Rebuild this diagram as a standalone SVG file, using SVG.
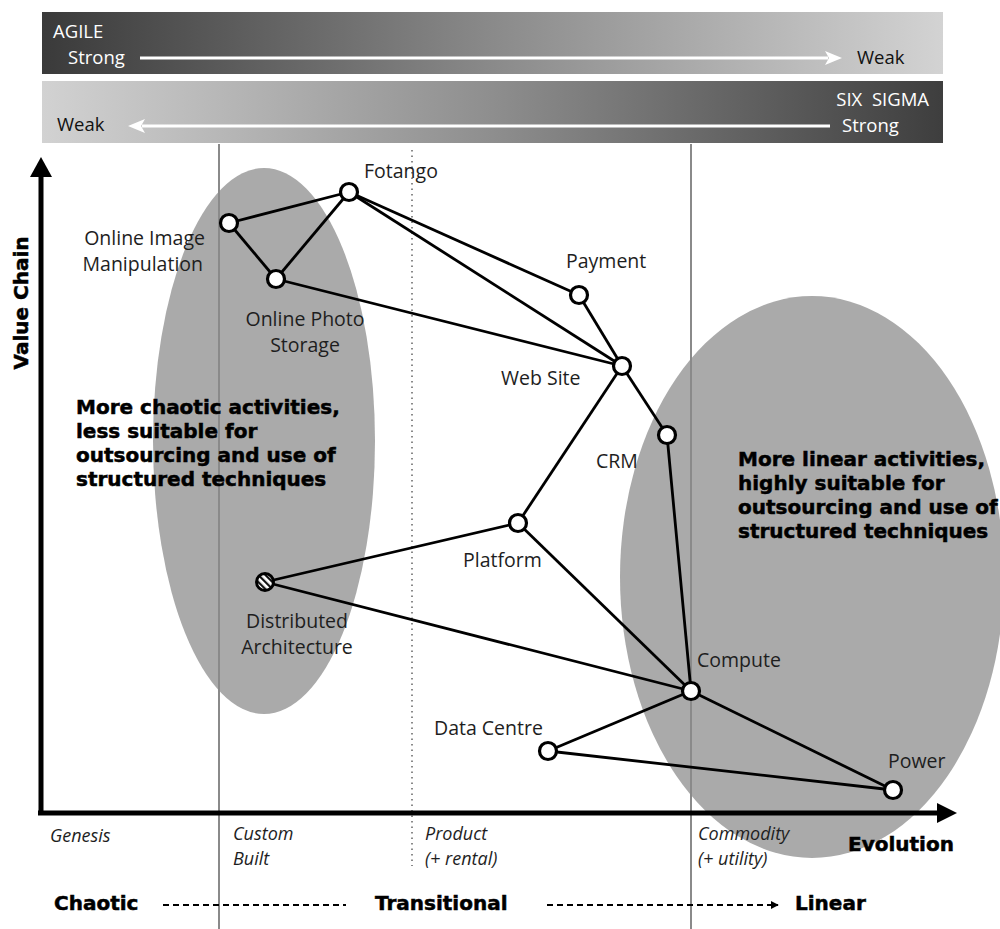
<svg xmlns="http://www.w3.org/2000/svg" width="1000" height="929" viewBox="0 0 1000 929">
  <defs>
    <linearGradient id="gradAgile" x1="0" y1="0" x2="1" y2="0">
      <stop offset="0" stop-color="#3a3a3a"/>
      <stop offset="0.5" stop-color="#8a8a8a"/>
      <stop offset="1" stop-color="#d3d3d3"/>
    </linearGradient>
    <linearGradient id="gradSigma" x1="0" y1="0" x2="1" y2="0">
      <stop offset="0" stop-color="#d2d2d2"/>
      <stop offset="0.5" stop-color="#8e8e8e"/>
      <stop offset="1" stop-color="#3e3e3e"/>
    </linearGradient>
    <pattern id="hatch" patternUnits="userSpaceOnUse" width="5" height="5" patternTransform="rotate(-45)">
      <rect width="5" height="5" fill="#ffffff"/>
      <rect width="2.2" height="5" fill="#111111"/>
    </pattern>
    <marker id="dashArrow" viewBox="0 0 10 10" refX="9" refY="5" markerWidth="4" markerHeight="4" orient="auto" markerUnits="strokeWidth">
      <path d="M0,0 L10,5 L0,10 Z" fill="#000"/>
    </marker>
  </defs>
  <style>
    .lbl { font-family: "Open Sans", "Lato", "DejaVu Sans", sans-serif; font-size: 19.5px; fill: #1e1e1e; }
    .stage { font-family: "Open Sans", "Lato", "DejaVu Sans", sans-serif; font-size: 18px; font-style: italic; fill: #1e1e1e; }
    .bold { font-family: "DejaVu Sans", "Liberation Sans", sans-serif; font-size: 20px; font-weight: bold; fill: #000; stroke: #000; stroke-width: 0.5; }
    .barTxt { font-family: "Open Sans", "Lato", "DejaVu Sans", sans-serif; font-size: 18.5px; }
    .edge { stroke: #000; stroke-width: 2.8; fill: none; }
    .node { fill: #fff; stroke: #000; stroke-width: 3.2; }
    .divider { stroke: #8a8a8a; stroke-width: 2; }
    .region { fill: #aaaaaa; }
  </style>

  <!-- Method strength bars -->
  <g id="agile-bar">
    <rect x="42" y="12" width="901" height="62" fill="url(#gradAgile)"/>
    <text class="barTxt" x="53" y="38" fill="#fff">AGILE</text>
    <text class="barTxt" x="68" y="64" fill="#fff">Strong</text>
    <line x1="140" y1="58" x2="828" y2="58" stroke="#fff" stroke-width="3"/>
    <path d="M842,58 L825,51 L829,58 L825,65 Z" fill="#fff"/>
    <text class="barTxt" x="857" y="64" fill="#111">Weak</text>
  </g>
  <g id="sixsigma-bar">
    <rect x="42" y="81" width="901" height="62" fill="url(#gradSigma)"/>
    <text class="barTxt" x="929" y="106" fill="#fff" text-anchor="end" xml:space="preserve">SIX  SIGMA</text>
    <text class="barTxt" x="842" y="132" fill="#fff">Strong</text>
    <line x1="830" y1="126" x2="142" y2="126" stroke="#fff" stroke-width="3"/>
    <path d="M128,126 L145,119 L141,126 L145,133 Z" fill="#fff"/>
    <text class="barTxt" x="57" y="131" fill="#111">Weak</text>
  </g>

  <!-- Shaded regions -->
  <g id="region-chaotic">
    <ellipse class="region" cx="264" cy="441" rx="111" ry="273"/>
  </g>
  <g id="region-linear">
    <ellipse class="region" cx="812" cy="577" rx="192" ry="281"/>
  </g>

  <!-- Stage dividers -->
  <g id="dividers">
    <line class="divider" x1="219" y1="144" x2="219" y2="929"/>
    <line class="divider" x1="691" y1="144" x2="691" y2="929"/>
    <line x1="412" y1="150" x2="412" y2="866" stroke="#8a8a8a" stroke-width="2" stroke-dasharray="1.5 4"/>
  </g>

  <!-- Axes -->
  <g id="axes">
    <line x1="41" y1="815" x2="41" y2="172" stroke="#000" stroke-width="5"/>
    <path d="M41,157 L30,177 L52,177 Z" fill="#000"/>
    <line x1="38" y1="813" x2="942" y2="813" stroke="#000" stroke-width="5"/>
    <path d="M957,813 L937,803 L937,823 Z" fill="#000"/>
    <text class="bold" transform="translate(28,303) rotate(-90)" text-anchor="middle">Value Chain</text>
    <text class="bold" x="848" y="851">Evolution</text>
  </g>

  <!-- Connectors -->
  <g id="connectors">
    <line class="edge" x1="229" y1="223" x2="349" y2="192"/>
    <line class="edge" x1="229" y1="223" x2="276" y2="279"/>
    <line class="edge" x1="276" y1="279" x2="349" y2="192"/>
    <line class="edge" x1="349" y1="192" x2="579" y2="295"/>
    <line class="edge" x1="349" y1="192" x2="622" y2="366"/>
    <line class="edge" x1="276" y1="279" x2="622" y2="366"/>
    <line class="edge" x1="579" y1="295" x2="622" y2="366"/>
    <line class="edge" x1="622" y1="366" x2="667" y2="435"/>
    <line class="edge" x1="622" y1="366" x2="518" y2="523"/>
    <line class="edge" x1="667" y1="435" x2="691" y2="691"/>
    <line class="edge" x1="518" y1="523" x2="265" y2="582"/>
    <line class="edge" x1="518" y1="523" x2="691" y2="691"/>
    <line class="edge" x1="265" y1="582" x2="691" y2="691"/>
    <line class="edge" x1="691" y1="691" x2="548" y2="751"/>
    <line class="edge" x1="691" y1="691" x2="893" y2="790"/>
    <line class="edge" x1="548" y1="751" x2="893" y2="790"/>
  </g>

  <!-- Nodes -->
  <g id="node-fotango">
    <circle class="node" cx="349" cy="192" r="8.5"/>
    <text class="lbl" x="364" y="178">Fotango</text>
  </g>
  <g id="node-online-image-manipulation">
    <circle class="node" cx="229" cy="223" r="8.5"/>
    <text class="lbl" x="205" y="245" text-anchor="end">Online Image</text>
    <text class="lbl" x="203" y="271" text-anchor="end">Manipulation</text>
  </g>
  <g id="node-online-photo-storage">
    <circle class="node" cx="276" cy="279" r="8.5"/>
    <text class="lbl" x="305" y="326" text-anchor="middle">Online Photo</text>
    <text class="lbl" x="305" y="352" text-anchor="middle">Storage</text>
  </g>
  <g id="node-payment">
    <circle class="node" cx="579" cy="295" r="8.5"/>
    <text class="lbl" x="566" y="268">Payment</text>
  </g>
  <g id="node-web-site">
    <circle class="node" cx="622" cy="366" r="8.5"/>
    <text class="lbl" x="501" y="385">Web Site</text>
  </g>
  <g id="node-crm">
    <circle class="node" cx="667" cy="435" r="8.5"/>
    <text class="lbl" x="596" y="468">CRM</text>
  </g>
  <g id="node-platform">
    <circle class="node" cx="518" cy="523" r="8.5"/>
    <text class="lbl" x="463" y="567">Platform</text>
  </g>
  <g id="node-distributed-architecture">
    <circle cx="265" cy="582" r="8.5" fill="url(#hatch)" stroke="#000" stroke-width="3"/>
    <text class="lbl" x="297" y="628" text-anchor="middle">Distributed</text>
    <text class="lbl" x="297" y="654" text-anchor="middle">Architecture</text>
  </g>
  <g id="node-compute">
    <circle class="node" cx="691" cy="691" r="8.5"/>
    <text class="lbl" x="697" y="667">Compute</text>
  </g>
  <g id="node-data-centre">
    <circle class="node" cx="548" cy="751" r="8.5"/>
    <text class="lbl" x="434" y="735">Data Centre</text>
  </g>
  <g id="node-power">
    <circle class="node" cx="893" cy="790" r="8.5"/>
    <text class="lbl" x="888" y="768">Power</text>
  </g>

  <!-- Region annotations -->
  <g id="note-chaotic">
    <text class="bold" x="76" y="414">More chaotic activities,</text>
    <text class="bold" x="76" y="438">less suitable for</text>
    <text class="bold" x="76" y="462">outsourcing and use of</text>
    <text class="bold" x="76" y="486">structured techniques</text>
  </g>
  <g id="note-linear">
    <text class="bold" x="738" y="466">More linear activities,</text>
    <text class="bold" x="738" y="490">highly suitable for</text>
    <text class="bold" x="738" y="514">outsourcing and use of</text>
    <text class="bold" x="738" y="538">structured techniques</text>
  </g>

  <!-- Evolution stages -->
  <g id="stages">
    <text class="stage" x="50" y="842">Genesis</text>
    <text class="stage" x="233" y="840">Custom</text>
    <text class="stage" x="233" y="865">Built</text>
    <text class="stage" x="425" y="840">Product</text>
    <text class="stage" x="425" y="865">(+ rental)</text>
    <text class="stage" x="698" y="840">Commodity</text>
    <text class="stage" x="698" y="865">(+ utility)</text>
  </g>

  <!-- Activity character scale -->
  <g id="character-scale">
    <text class="bold" x="54" y="910">Chaotic</text>
    <line x1="163" y1="905" x2="346" y2="905" stroke="#000" stroke-width="2" stroke-dasharray="6 4"/>
    <text class="bold" x="375" y="910">Transitional</text>
    <line x1="547" y1="905" x2="778" y2="905" stroke="#000" stroke-width="2" stroke-dasharray="6 4" marker-end="url(#dashArrow)"/>
    <text class="bold" x="795" y="910">Linear</text>
  </g>
</svg>
